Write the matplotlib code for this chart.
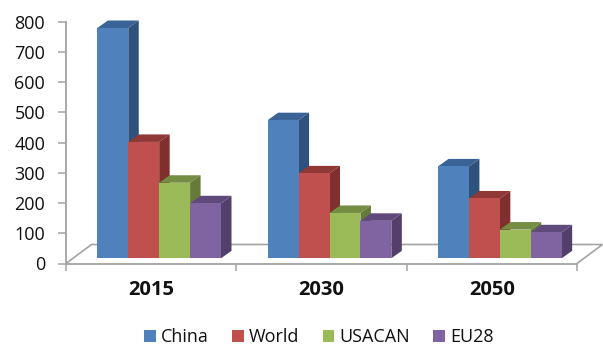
"""Stacked-depth column chart (3D look) of four regions over three years."""
import matplotlib
matplotlib.use("Agg")
import matplotlib.pyplot as plt
from matplotlib.patches import Patch, Polygon

YEARS = ["2015", "2030", "2050"]
SERIES = ["China", "World", "USACAN", "EU28"]
CHINA = [762, 457, 304]
WORLD = [385, 281, 198]
USACAN = [250, 150, 95]
EU28 = [182, 124, 86]
VALUES = [CHINA, WORLD, USACAN, EU28]
YTICKS = [0, 100, 200, 300, 400, 500, 600, 700, 800]

# front, top and side shades per series
FRONT = ["#4F81BD", "#C0504D", "#9BBB59", "#8064A2"]
TOP = ["#3A6397", "#8F3835", "#748D43", "#604A7B"]
SIDE = ["#2F527D", "#7F2F2D", "#667B3A", "#533F6B"]

W, H = 603, 345
AX_L, AX_R, AX_T, AX_B = 66, 577, 21.7, 263.5
GRAY = "#A3A3A3"

BAR_W = 0.1815
GROUP_PAD = 0.184
DEPTH_X = 10.5 / (AX_R - AX_L) * 3
DEPTH_Y = 7.5 / (AX_B - AX_T) * 800
BASE = 5.2 / (AX_B - AX_T) * 800
FLOOR_X = 25.5 / (AX_R - AX_L) * 3
FLOOR_Y = 19 / (AX_B - AX_T) * 800


def draw_bar(ax, x0, value, i):
    x1 = x0 + BAR_W
    y0 = BASE
    y1 = BASE + value
    ax.add_patch(Polygon([(x0, y1), (x1, y1), (x1 + DEPTH_X, y1 + DEPTH_Y), (x0 + DEPTH_X, y1 + DEPTH_Y)],
                         facecolor=TOP[i], edgecolor="none", clip_on=False, zorder=3))
    ax.add_patch(Polygon([(x1, y0), (x1 + DEPTH_X, y0 + DEPTH_Y), (x1 + DEPTH_X, y1 + DEPTH_Y), (x1, y1)],
                         facecolor=SIDE[i], edgecolor="none", clip_on=False, zorder=3))
    ax.add_patch(Polygon([(x0, y0), (x1, y0), (x1, y1), (x0, y1)],
                         facecolor=FRONT[i], edgecolor="none", clip_on=False, zorder=3))


def main():
    plt.rcParams["font.family"] = ["Open Sans", "DejaVu Sans"]
    fig = plt.figure(figsize=(W / 100, H / 100), dpi=100)
    ax = fig.add_axes([AX_L / W, 1 - AX_B / H, (AX_R - AX_L) / W, (AX_B - AX_T) / H])
    ax.set_xlim(0, 3)
    ax.set_ylim(0, 800)

    for side in ["top", "right"]:
        ax.spines[side].set_visible(False)
    for side in ["left", "bottom"]:
        ax.spines[side].set_color(GRAY)
        ax.spines[side].set_linewidth(1.3)

    # floor outline behind the columns
    ax.plot([0, FLOOR_X, 3 + FLOOR_X, 3], [0, FLOOR_Y, FLOOR_Y, 0], color=GRAY, lw=1.2,
            clip_on=False, zorder=1, solid_joinstyle="miter")

    for g in range(len(YEARS)):
        for i in range(len(SERIES)):
            draw_bar(ax, g + GROUP_PAD + i * BAR_W, VALUES[i][g], i)

    ax.set_yticks(YTICKS)
    ax.set_xticks(range(len(YEARS) + 1))
    ax.set_xticklabels([])
    ax.set_xticks([g + 0.5 for g in range(len(YEARS))], minor=True)
    ax.set_xticklabels(YEARS, minor=True, fontsize=14.5, fontweight="bold", color="#111111")
    ax.tick_params(axis="x", which="major", length=5, width=1.1, color=GRAY)
    ax.tick_params(axis="x", which="minor", length=0, pad=12)
    ax.tick_params(axis="y", length=6, width=1.1, color=GRAY, labelsize=13,
                   labelcolor="#111111", pad=9)

    handles = [Patch(facecolor=c, edgecolor="none") for c in FRONT]
    fig.legend(handles, SERIES, ncol=4, loc="center", bbox_to_anchor=(319 / W, 1 - 337 / H),
               frameon=False, fontsize=13, labelcolor="#111111", handlelength=0.65, handleheight=0.65,
               handletextpad=0.3, columnspacing=1.27, borderpad=0, borderaxespad=0)

    fig.savefig("out.png", dpi=100)
    plt.close(fig)


if __name__ == "__main__":
    main()
